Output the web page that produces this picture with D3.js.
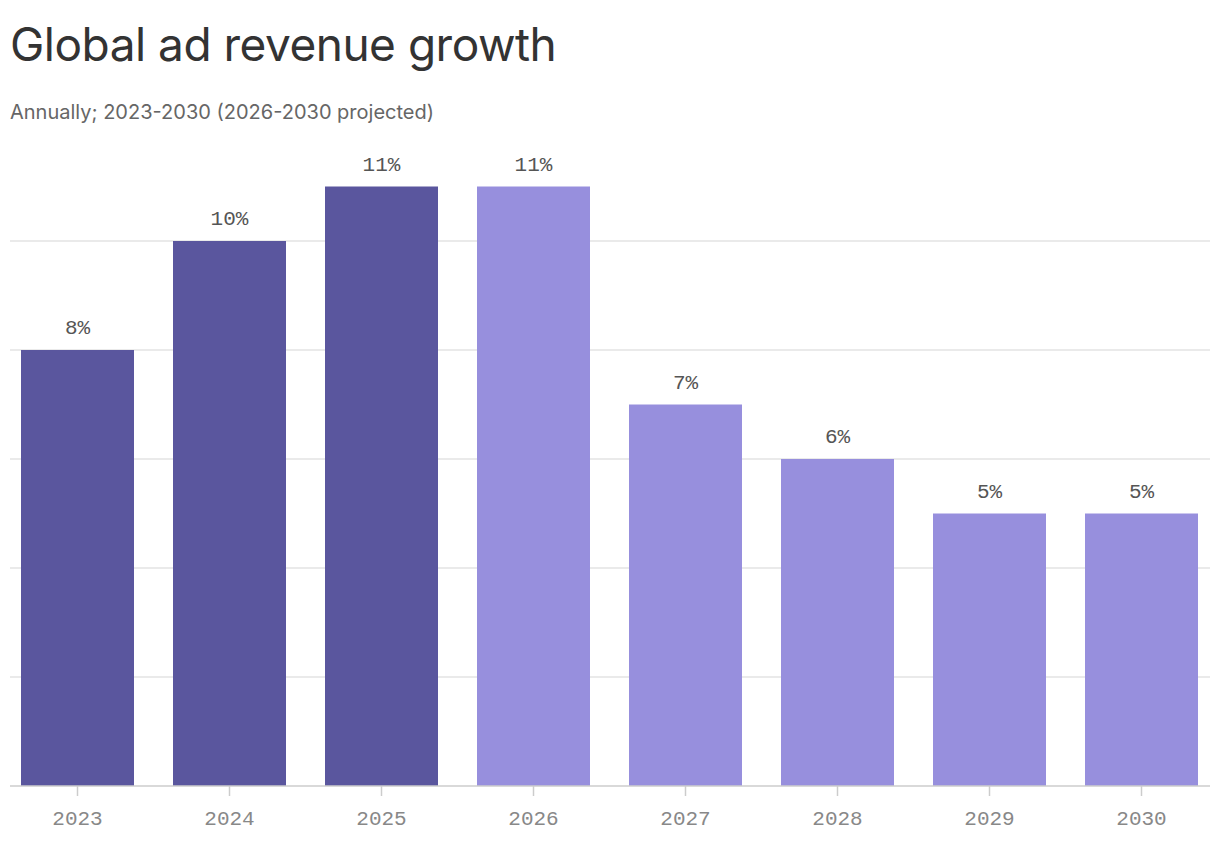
<!DOCTYPE html>
<html>
<head>
<meta charset="utf-8">
<script src="https://cdn.jsdelivr.net/npm/d3@7"></script>
<style>
  body { margin: 0; background: #fff; }
  svg { display: block; }
</style>
</head>
<body>
<svg id="chart" width="1220" height="860"></svg>
<script>
// Chart data
const years = ['2023', '2024', '2025', '2026', '2027', '2028', '2029', '2030']
const growth = [8, 10, 11, 11, 7, 6, 5, 5]
const projected = [false, false, false, true, true, true, true, true]
const gridTicks = [2, 4, 6, 8, 10]

const svg = d3.select('#chart')
const mono = "'Liberation Mono', 'DejaVu Sans Mono', monospace"

// Title and subtitle
svg.append('text')
  .attr('x', 10).attr('y', 61)
  .style('font-family', 'Inter, Roboto, sans-serif')
  .style('font-size', '46px')
  .style('letter-spacing', '-0.5px')
  .style('fill', '#333')
  .text('Global ad revenue growth')

svg.append('text')
  .attr('x', 10).attr('y', 119)
  .style('font-family', 'Inter, Roboto, sans-serif')
  .style('font-size', '20px')
  .style('fill', '#666')
  .text('Annually; 2023-2030 (2026-2030 projected)')

// Scales
const x = d3.scaleBand().domain(years).range([1.5, 1217.5])
const y = d3.scaleLinear().domain([0, 12]).range([786, 132])
const barWidth = 113

// Gridlines
svg.selectAll('.grid')
  .data(gridTicks)
  .join('line')
  .attr('x1', 10).attr('x2', 1210)
  .attr('y1', d => y(d)).attr('y2', d => y(d))
  .attr('stroke', '#e3e3e3')
  .attr('stroke-width', 1.5)

// Bars
svg.selectAll('.bar')
  .data(years)
  .join('rect')
  .attr('x', d => x(d) + x.bandwidth() / 2 - barWidth / 2)
  .attr('width', barWidth)
  .attr('y', (d, i) => y(growth[i]))
  .attr('height', (d, i) => y(0) - y(growth[i]))
  .attr('fill', (d, i) => projected[i] ? '#978fdd' : '#5a569e')

// Value labels
svg.selectAll('.label')
  .data(years)
  .join('text')
  .attr('x', d => x(d) + x.bandwidth() / 2)
  .attr('y', (d, i) => y(growth[i]) - 16)
  .attr('text-anchor', 'middle')
  .style('font-family', mono)
  .style('font-size', '21px')
  .style('fill', '#555')
  .text((d, i) => growth[i] + '%')

// Baseline and x axis
svg.append('line')
  .attr('x1', 10).attr('x2', 1210)
  .attr('y1', y(0)).attr('y2', y(0))
  .attr('stroke', '#ccc')
  .attr('stroke-width', 1.5)

const axis = svg.append('g')
  .attr('transform', `translate(0,${y(0)})`)
  .call(d3.axisBottom(x).tickSize(10).tickPadding(14))
axis.select('.domain').remove()
axis.selectAll('line').attr('stroke', '#ccc').attr('stroke-width', 1.5)
axis.selectAll('text')
  .style('font-family', mono)
  .style('font-size', '21px')
  .style('fill', '#888')
</script>
</body>
</html>
